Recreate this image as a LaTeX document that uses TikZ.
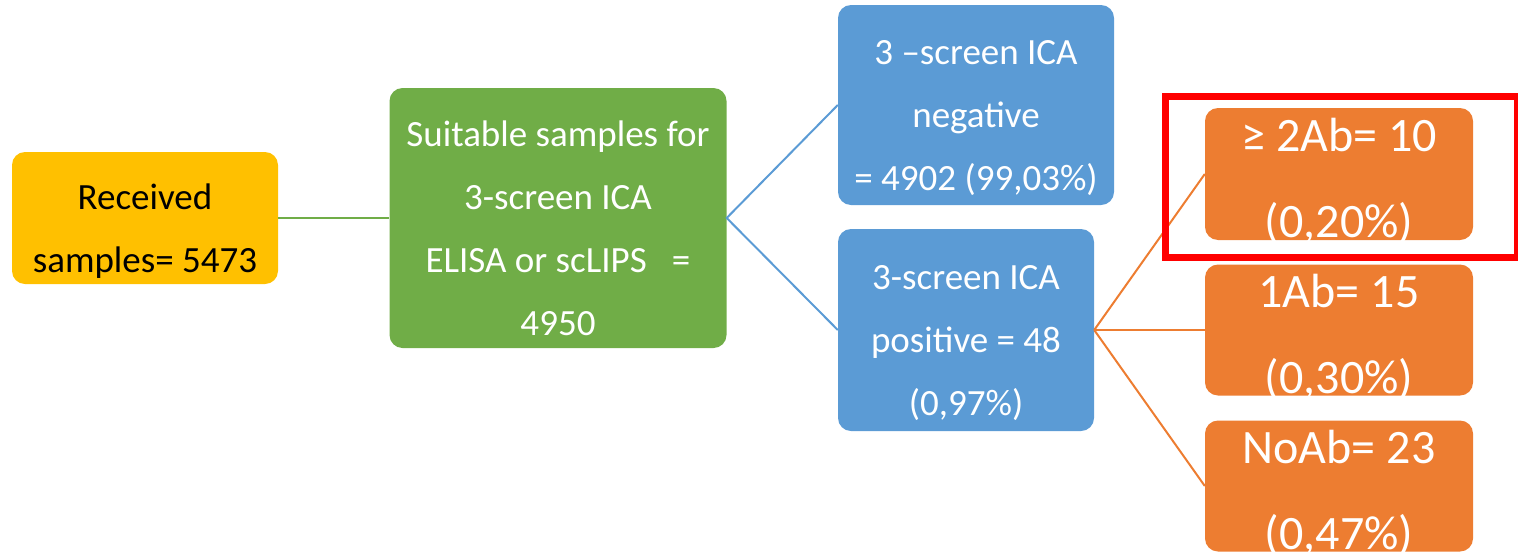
\documentclass[tikz,border=0pt]{standalone}
\usepackage{fontspec}
\setmainfont{Carlito}

\definecolor{recyellow}{HTML}{FFC000}
\definecolor{suitgreen}{HTML}{70AD47}
\definecolor{icablue}{HTML}{5B9BD5}
\definecolor{aborange}{HTML}{ED7D31}

\newcommand{\fsBox}{\fontsize{37}{63}\selectfont}
\newcommand{\fsIca}{\fontsize{37}{63}\selectfont}
\newcommand{\fsAb}{\fontsize{48}{86}\selectfont}

\tikzset{
  box/.style={rounded corners=13pt, inner sep=0pt},
  txt/.style={align=center, text=white, inner sep=0pt, yshift=-20pt,
    execute at begin node=\strut, execute at end node=\strut},
}

\begin{document}
\begin{tikzpicture}[x=1pt, y=-1pt]
    \useasboundingbox (0,0) rectangle (1518,552);

    % first two stages
    \node[box, fill=recyellow, minimum width=266pt, minimum height=132pt] (rec) at (145,218) {};
    \node[txt, font=\fsBox, text=black] (rec-t) at (rec) {Received\\samples= 5473};
    \node[box, fill=suitgreen, minimum width=337pt, minimum height=260pt] (suit) at (558,218) {};
    \node[txt, font=\fsBox] (suit-t) at (suit) {Suitable samples for\\3-screen ICA\\ELISA or scLIPS\ \ \ =\\4950};

    % screen result
    \node[box, fill=icablue, minimum width=276pt, minimum height=200pt] (neg) at (976,105) {};
    \node[txt, font=\fsIca] (neg-t) at (neg) {3 –screen ICA\\negative\\= 4902 (99,03\%)};
    \node[box, fill=icablue, minimum width=256pt, minimum height=202pt] (pos) at (966,330) {};
    \node[txt, font=\fsIca] (pos-t) at (pos) {3-screen ICA\\positive = 48\\(0,97\%)};

    % antibody counts (text runs past the box bottom)
    \node[box, fill=aborange, minimum width=268pt, minimum height=132pt] (ab2) at (1339,174) {};
    \node[box, fill=aborange, minimum width=268pt, minimum height=131pt] (ab1) at (1339,330) {};
    \node[box, fill=aborange, minimum width=268pt, minimum height=131pt] (ab0) at (1339,486) {};
    \begin{scope}
      \clip[rounded corners=13pt] (ab2.south west) rectangle (ab2.north east);
      \node[txt, font=\fsAb, yshift=3pt] (ab2-t) at (ab2) {≥ 2Ab= 10\\(0,20\%)};
    \end{scope}
    \begin{scope}
      \clip[rounded corners=13pt] (ab1.south west) rectangle (ab1.north east);
      \node[txt, font=\fsAb, yshift=3pt] (ab1-t) at (ab1) {1Ab= 15\\(0,30\%)};
    \end{scope}
    \begin{scope}
      \clip[rounded corners=13pt] (ab0.south west) rectangle (ab0.north east);
      \node[txt, font=\fsAb, yshift=3pt] (ab0-t) at (ab0) {NoAb= 23\\(0,47\%)};
    \end{scope}

    \draw[suitgreen, line width=2.5pt] (rec.east) -- (suit.west);
    \draw[icablue, line width=2pt] (neg.west) -- (suit.east) -- (pos.west);
    \draw[aborange, line width=2pt] (pos.east) -- (ab2.west);
    \draw[aborange, line width=2pt] (pos.east) -- (ab1.west);
    \draw[aborange, line width=2pt] (pos.east) -- (ab0.west);

    % highlight
    \draw[red, line width=7pt] (1165,96) rectangle (1517,257);
\end{tikzpicture}
\end{document}
